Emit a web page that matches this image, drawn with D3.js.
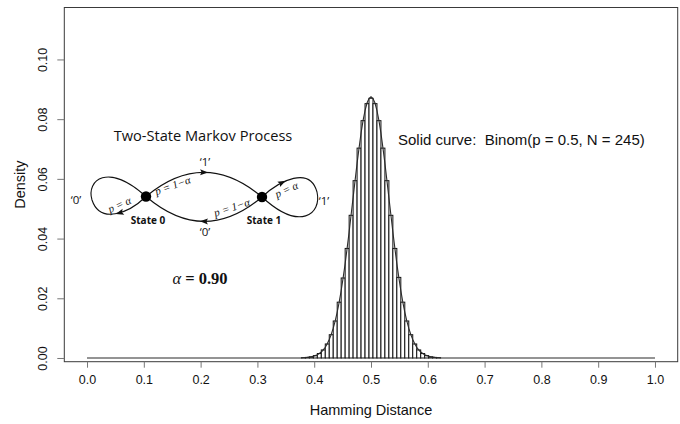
<!DOCTYPE html>
<html>
<head>
<meta charset="utf-8">
<script src="https://cdn.jsdelivr.net/npm/d3@7"></script>
<style>
  html, body { margin: 0; padding: 0; background: #fff; }
  svg { display: block; }
  text { white-space: pre; }
</style>
</head>
<body>
<svg id="chart" width="680" height="424"></svg>
<script>
// ---------------- data ----------------
const xTicks = [0.0, 0.1, 0.2, 0.3, 0.4, 0.5, 0.6, 0.7, 0.8, 0.9, 1.0];
const yTicks = [0.00, 0.02, 0.04, 0.06, 0.08, 0.10];

// histogram bin edges (Hamming distance) and bar heights (density)
const binEdges = [0.3775, 0.3845, 0.3915, 0.3985, 0.4055, 0.4125, 0.4195, 0.4265, 0.4335,
  0.4405, 0.4475, 0.4545, 0.4615, 0.4685, 0.4755, 0.4825, 0.4895, 0.4965, 0.5035, 0.5105,
  0.5175, 0.5245, 0.5315, 0.5385, 0.5455, 0.5525, 0.5595, 0.5665, 0.5735, 0.5805, 0.5875,
  0.5945, 0.6015, 0.6085, 0.6155, 0.6225];
const barDensity = [0.0001, 0.0002, 0.0004, 0.0008, 0.0015, 0.0027, 0.0047, 0.0078, 0.0124,
  0.0187, 0.0268, 0.0367, 0.0478, 0.0594, 0.0703, 0.0795, 0.0852, 0.0870, 0.0852, 0.0795,
  0.0703, 0.0594, 0.0478, 0.0367, 0.0270, 0.0187, 0.0124, 0.0078, 0.0047, 0.0027, 0.0015,
  0.0008, 0.0004, 0.0002, 0.0001];

// solid binomial curve
const curveX = [0, 0.374, 0.3775, 0.381, 0.3845, 0.388, 0.3915, 0.395, 0.3985, 0.402, 0.4055,
  0.409, 0.4125, 0.416, 0.4195, 0.423, 0.4265, 0.430, 0.4335, 0.437, 0.4405, 0.444, 0.4475,
  0.451, 0.4545, 0.458, 0.4615, 0.465, 0.4685, 0.472, 0.4755, 0.479, 0.4825, 0.486, 0.4895,
  0.493, 0.4965, 0.5, 0.5035, 0.507, 0.5105, 0.514, 0.5175, 0.521, 0.5245, 0.528, 0.5315,
  0.535, 0.5385, 0.542, 0.5455, 0.549, 0.5525, 0.556, 0.5595, 0.563, 0.5665, 0.570, 0.5735,
  0.577, 0.5805, 0.584, 0.5875, 0.591, 0.5945, 0.598, 0.6015, 0.605, 0.6085, 0.612, 0.6155,
  0.619, 0.6225, 0.626, 1];
const curveY = [0, 0, 0.0000, 0.0001, 0.0001, 0.0002, 0.0003, 0.0004, 0.0006, 0.0008, 0.0011,
  0.0015, 0.0020, 0.0027, 0.0036, 0.0048, 0.0062, 0.0079, 0.0100, 0.0124, 0.0154, 0.0187, 0.0226,
  0.0269, 0.0316, 0.0368, 0.0422, 0.0480, 0.0537, 0.0595, 0.0652, 0.0704, 0.0753, 0.0795, 0.0829,
  0.0854, 0.0869, 0.0875, 0.0869, 0.0854, 0.0829, 0.0795, 0.0753, 0.0704, 0.0652, 0.0595, 0.0537,
  0.0480, 0.0422, 0.0368, 0.0316, 0.0269, 0.0226, 0.0187, 0.0154, 0.0124, 0.0100, 0.0079, 0.0062,
  0.0048, 0.0036, 0.0027, 0.0020, 0.0015, 0.0011, 0.0008, 0.0006, 0.0004, 0.0003, 0.0002, 0.0001,
  0.0001, 0.0000, 0, 0];

const xLabel = "Hamming Distance";
const yLabel = "Density";
const curveNote = "Solid curve:  Binom(p = 0.5, N = 245)";
const diagramTitle = "Two-State Markov Process";
const alphaValue = "0.90";

// ---------------- layout ----------------
const svg = d3.select("#chart");
const box = { left: 64.3, right: 677.7, top: 7.5, bottom: 361.7 };

const x = d3.scaleLinear().domain([-0.04, 1.04]).range([box.left, box.right]);
const y = d3.scaleLinear().domain([-0.00124, 0.1174]).range([box.bottom, box.top]);

const sans = "'Liberation Sans', Arial, Helvetica, sans-serif";
const lineCol = "#3a3a3a";

// histogram bars
const bars = barDensity.map((d, i) => ({ x0: binEdges[i], x1: binEdges[i + 1], v: d }));
svg.append("g")
  .selectAll("rect")
  .data(bars)
  .join("rect")
  .attr("x", d => x(d.x0))
  .attr("width", d => x(d.x1) - x(d.x0))
  .attr("y", d => y(d.v))
  .attr("height", d => y(0) - y(d.v))
  .attr("fill", "#fff")
  .attr("stroke", "#111")
  .attr("stroke-width", 1);

// curve
const line = d3.line().x(d => x(d[0])).y(d => y(d[1]));
svg.append("path")
  .datum(curveX.map((v, i) => [v, curveY[i]]))
  .attr("d", line)
  .attr("fill", "none")
  .attr("stroke", "#2a2a2a")
  .attr("stroke-width", 1.1);

// box
svg.append("rect")
  .attr("x", box.left).attr("y", box.top)
  .attr("width", box.right - box.left).attr("height", box.bottom - box.top)
  .attr("fill", "none").attr("stroke", lineCol).attr("stroke-width", 1);

// x axis
const xAxis = svg.append("g")
  .attr("transform", `translate(0,${box.bottom})`)
  .call(d3.axisBottom(x).tickValues(xTicks).tickFormat(d3.format(".1f")).tickSize(6).tickPadding(7));
xAxis.select(".domain").remove();
xAxis.selectAll(".tick line").attr("stroke", "#777");
xAxis.selectAll(".tick text").attr("font-family", sans).attr("font-size", 12.5).attr("fill", "#111");

// y axis
const yAxis = svg.append("g")
  .attr("transform", `translate(${box.left},0)`)
  .call(d3.axisLeft(y).tickValues(yTicks).tickFormat(d3.format(".2f")).tickSize(7).tickPadding(0));
yAxis.select(".domain").remove();
yAxis.selectAll(".tick line").attr("stroke", "#777");
yAxis.selectAll(".tick text")
  .attr("font-family", sans).attr("font-size", 12.5).attr("fill", "#111")
  .attr("text-anchor", "middle")
  .attr("x", null).attr("dy", null)
  .attr("transform", "translate(-21,0) rotate(-90)")
  .attr("dominant-baseline", "central");

// axis titles
svg.append("text")
  .attr("x", (box.left + box.right) / 2).attr("y", 415)
  .attr("text-anchor", "middle")
  .attr("font-family", sans).attr("font-size", 14.5).attr("fill", "#111")
  .text(xLabel);
svg.append("text")
  .attr("transform", `translate(25,${(box.top + box.bottom) / 2}) rotate(-90)`)
  .attr("text-anchor", "middle")
  .attr("font-family", sans).attr("font-size", 14.5).attr("fill", "#111")
  .text(yLabel);

// curve note
svg.append("text")
  .attr("x", 398).attr("y", 144.5)
  .attr("font-family", sans).attr("font-size", 15).attr("fill", "#111")
  .text(curveNote);

// ---------------- inset diagram ----------------
const dg = svg.append("g");
const calibri = "'Open Sans', 'Noto Sans', sans-serif";
const mathSerif = "'Liberation Serif', 'DejaVu Serif', serif";

dg.append("text")
  .attr("x", 203).attr("y", 141)
  .attr("text-anchor", "middle")
  .attr("font-family", calibri).attr("font-size", 14.6).attr("fill", "#111")
  .text(diagramTitle);

const n0 = [146, 196.5], n1 = [262, 197];
const paths = [
  { d: `M${n0[0]},${n0[1]} Q204,148 ${n1[0]},${n1[1]}`, at: 0.5 },
  { d: `M${n1[0]},${n1[1]} Q204,246 ${n0[0]},${n0[1]}`, at: 0.5 },
  { d: `M${n0[0]},${n0[1]} C128,214 100,224 92,200 C86,180 108,162 ${n0[0]},${n0[1]}`, at: 0.22 },
  { d: `M${n1[0]},${n1[1]} C280,180 310,166 317,192 C322,214 300,232 ${n1[0]},${n1[1]}`, at: 0.17 }
];
paths.forEach(p => {
  const el = dg.append("path")
    .attr("d", p.d).attr("fill", "none")
    .attr("stroke", "#111").attr("stroke-width", 1.1);
  const node = el.node();
  const L = node.getTotalLength();
  const a = node.getPointAtLength(L * p.at);
  const b = node.getPointAtLength(L * p.at + 1);
  const ang = Math.atan2(b.y - a.y, b.x - a.x) * 180 / Math.PI;
  dg.append("path")
    .attr("d", "M4,0 L-4,-3 L-2.5,0 L-4,3 Z")
    .attr("fill", "#111")
    .attr("transform", `translate(${a.x},${a.y}) rotate(${ang})`);
});

dg.selectAll("circle.node")
  .data([n0, n1])
  .join("circle")
  .attr("cx", d => d[0]).attr("cy", d => d[1]).attr("r", 5.2)
  .attr("fill", "#000");

const quoteLabels = [
  { t: "\u20180\u2019", x: 76, y: 204 },
  { t: "\u20181\u2019", x: 324, y: 205 },
  { t: "\u20181\u2019", x: 205, y: 166 },
  { t: "\u20180\u2019", x: 205, y: 236 }
];
dg.selectAll("text.q")
  .data(quoteLabels)
  .join("text")
  .attr("class", "q")
  .attr("x", d => d.x).attr("y", d => d.y)
  .attr("text-anchor", "middle")
  .attr("font-family", calibri).attr("font-size", 11.5).attr("fill", "#111")
  .text(d => d.t);

const stateLabels = [
  { t: "State 0", x: 148, y: 223.5 },
  { t: "State 1", x: 264, y: 223.5 }
];
dg.selectAll("text.s")
  .data(stateLabels)
  .join("text")
  .attr("class", "s")
  .attr("x", d => d.x).attr("y", d => d.y)
  .attr("text-anchor", "middle")
  .attr("font-family", calibri).attr("font-size", 10).attr("font-weight", "bold").attr("fill", "#111")
  .text(d => d.t);

const probLabels = [
  { t: "p = 1\u2212\u03b1", x: 174, y: 189, r: -20 },
  { t: "p = 1\u2212\u03b1", x: 233, y: 211, r: -18 },
  { t: "p = \u03b1", x: 121, y: 208, r: -24 },
  { t: "p = \u03b1", x: 288, y: 193, r: -24 }
];
dg.selectAll("text.p")
  .data(probLabels)
  .join("text")
  .attr("class", "p")
  .attr("transform", d => `translate(${d.x},${d.y}) rotate(${d.r})`)
  .attr("text-anchor", "middle")
  .attr("font-family", mathSerif).attr("font-size", 11).attr("font-style", "italic").attr("fill", "#111")
  .text(d => d.t);

const alphaText = dg.append("text")
  .attr("x", 200).attr("y", 284)
  .attr("text-anchor", "middle")
  .attr("font-family", mathSerif).attr("font-size", 16.5).attr("fill", "#111");
alphaText.append("tspan").attr("font-style", "italic").text("\u03b1");
alphaText.append("tspan").attr("font-weight", "bold").text(" = " + alphaValue);
</script>
</body>
</html>
